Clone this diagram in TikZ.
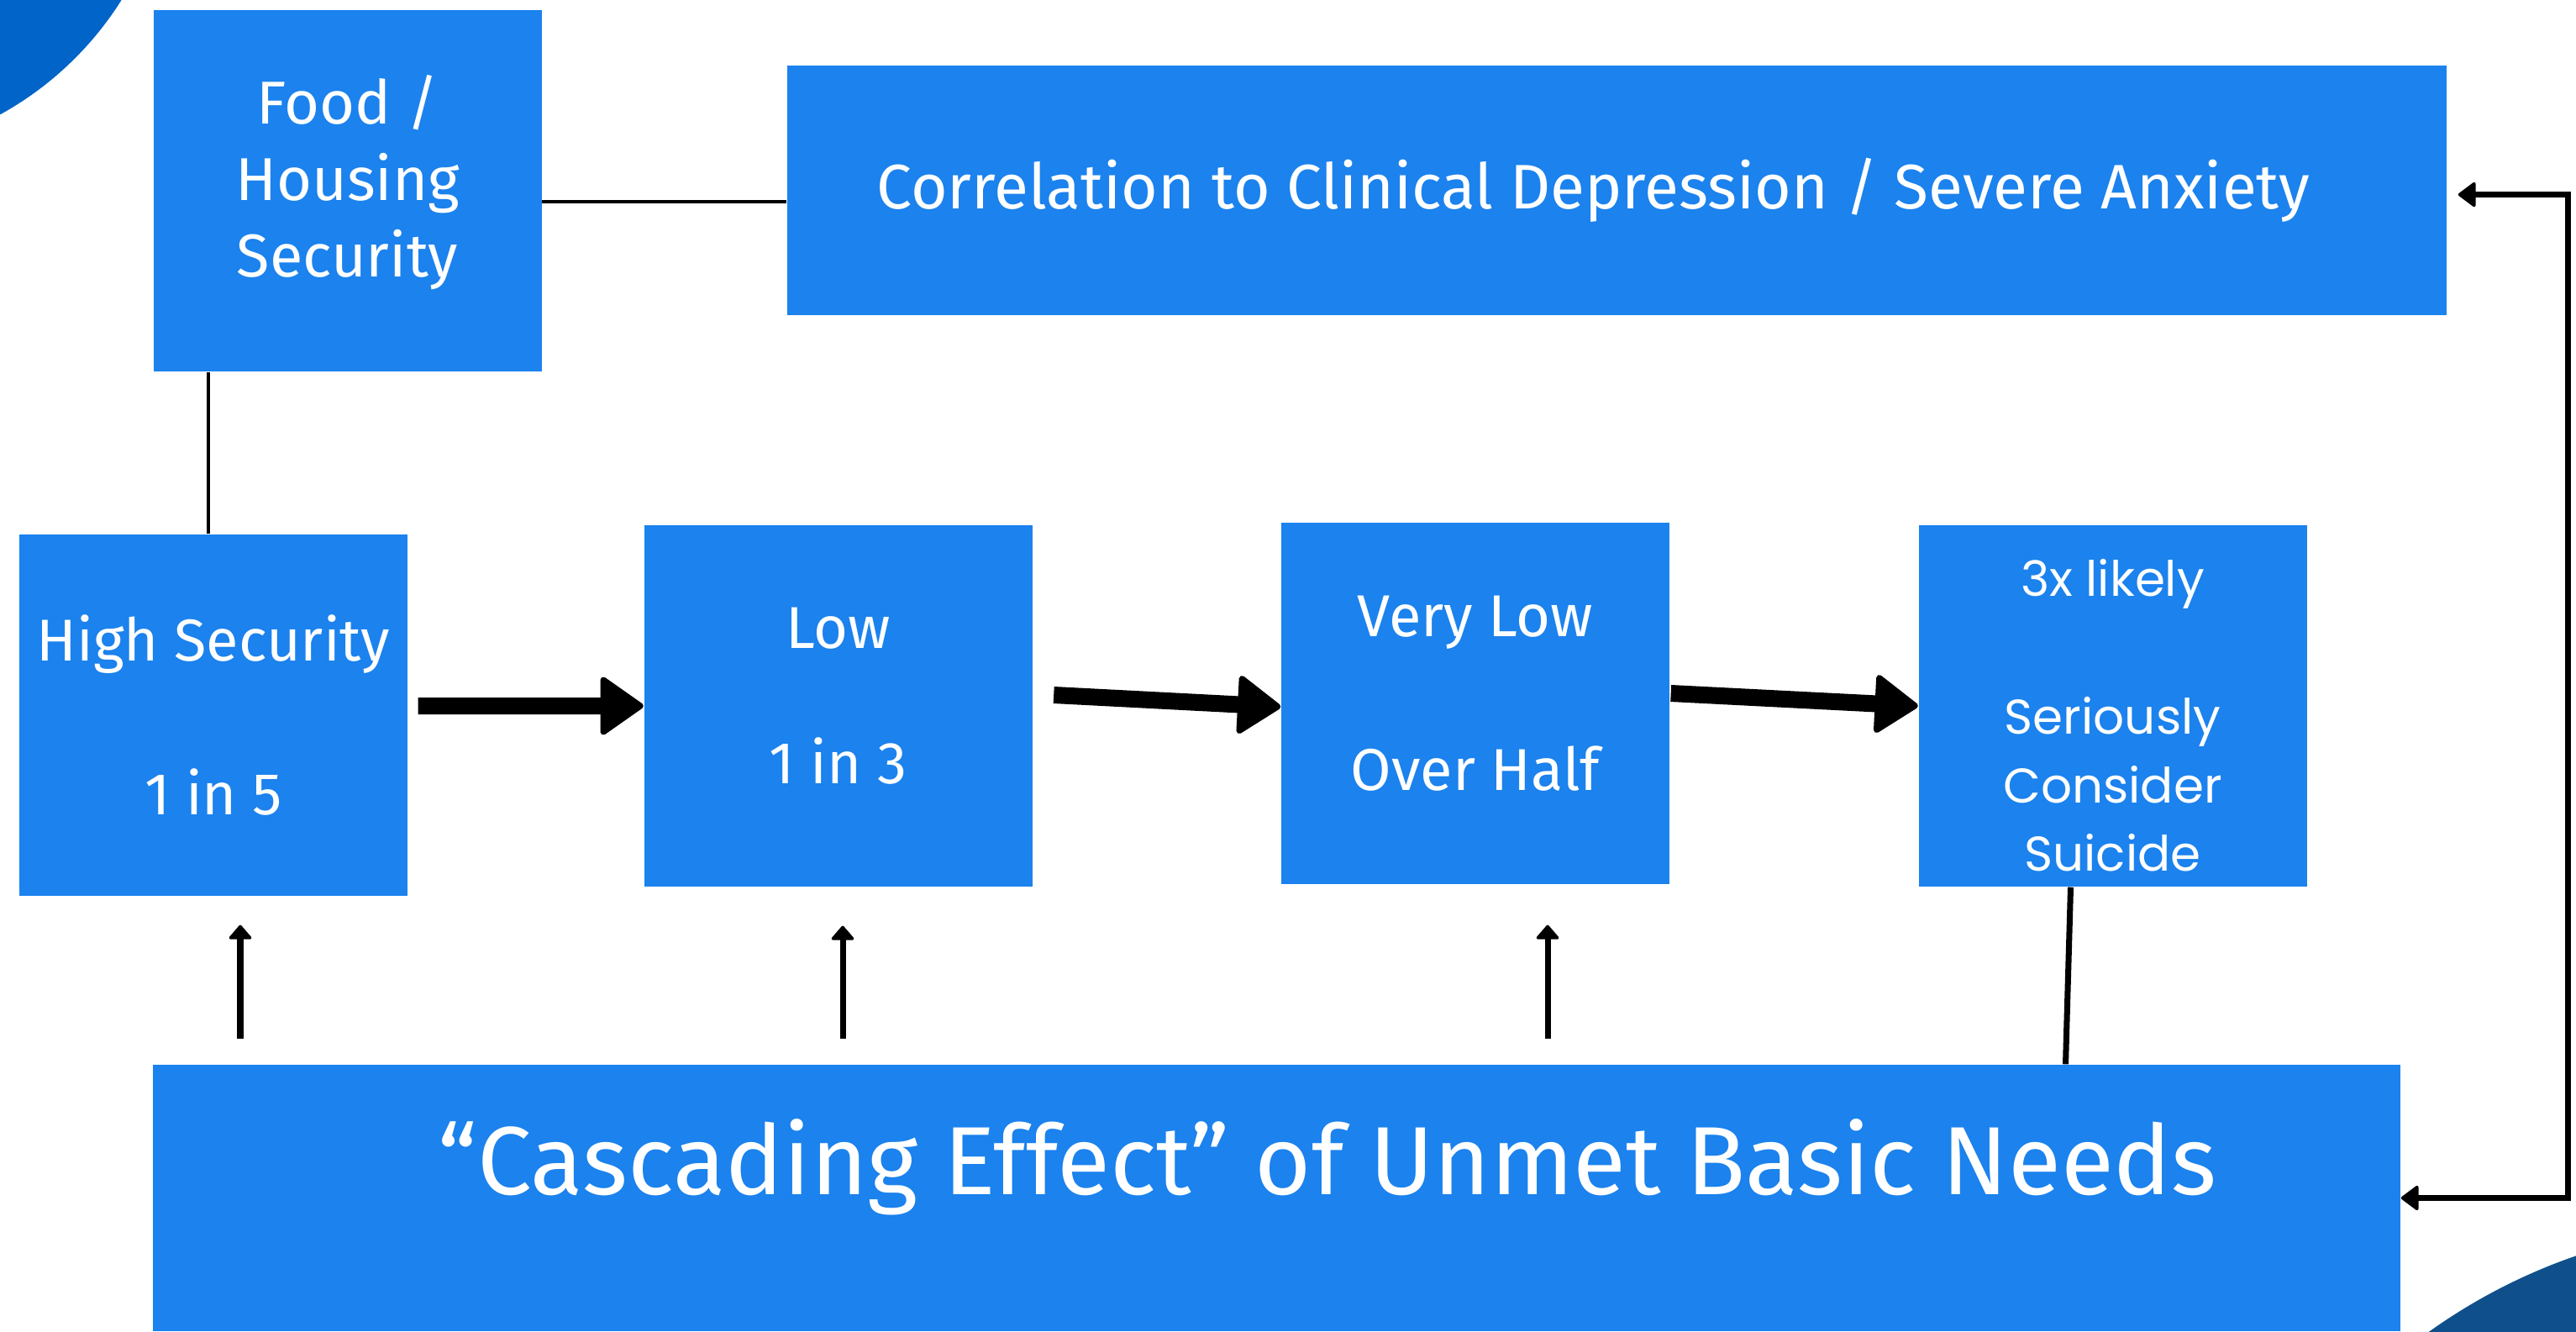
\documentclass[tikz,border=0pt]{standalone}
\usepackage{fontspec}
\setmainfont{Fira Sans}
\newfontfamily\geofont{Poppins}
\usetikzlibrary{positioning, arrows.meta}
\definecolor{BoxBlue}{RGB}{27,130,238}
\definecolor{CornerBlue}{RGB}{0,100,200}
\definecolor{CornerNavy}{RGB}{15,80,140}

\begin{document}
\begin{tikzpicture}[
    box/.style={fill=BoxBlue, text=white, inner sep=0pt, align=center,
      minimum width=4.62cm, minimum height=4.3cm, font=\fontsize{20}{26}\selectfont},
    link/.style={line width=0.9pt},
    bigarrow/.style={line width=5.7pt, -{Triangle[round, length=5.4mm, width=7.4mm, line width=2pt]}},
    uparrow/.style={line width=2pt, -{Triangle[round, length=1.8mm, width=3mm, line width=1pt]}},
    backlink/.style={line width=2pt,
      {Triangle[round, length=2.2mm, width=3.2mm, line width=1pt]}-{Triangle[round, length=2.2mm, width=3.2mm, line width=1pt]}}
  ]
  \useasboundingbox (0,0) rectangle (30.66,-15.84);
  \begin{scope}
    \clip (0,0) rectangle (30.66,-15.84);
    \fill[CornerBlue] (-1.9,2.1) circle (3.95);
    \fill[CornerNavy] (32.9,-21.44) circle (6.87);
  \end{scope}

  % boxes
  \node[box, font=\fontsize{20.5}{26}\selectfont] (food) at (4.135,-2.27)
    {Food /\\Housing\\Security\rule[-10pt]{0pt}{10pt}};
  \node[box, minimum width=19.75cm, minimum height=2.97cm, font=\fontsize{21.3}{26}\selectfont] (corr) at (19.245,-2.265)
    {Correlation to Clinical Depression / Severe Anxiety\hspace*{5.6mm}};
  \node[box] (high) at (2.54,-8.51) {High Security\\[26pt]1 in 5};
  \node[box, font=\fontsize{20}{23}\selectfont] (low) at (9.975,-8.40) {Low\\[23pt]1 in 3\rule[-7pt]{0pt}{7pt}};
  \node[box] (vlow) at (17.56,-8.37) {Very Low\\[26pt]Over Half\rule[-7pt]{0pt}{7pt}};
  \node[box, font=\geofont\fontsize{16.5}{23.3}\selectfont] (likely) at (25.145,-8.40)
    {\rule{0pt}{19pt}3x likely\\[23.3pt]Seriously\\Consider\\Suicide};
  \node[fill=BoxBlue, inner sep=0pt, minimum width=26.75cm, minimum height=3.17cm] (needs) at (15.195,-14.255) {};
  \node[text=white, font=\fontsize{32.8}{40}\selectfont, anchor=base] (needstext) at (15.8,-14.21)
    {“Cascading Effect” of Unmet Basic Needs};

  % connectors
  \draw[link] ([xshift=-0.6mm]high.north) -- ([xshift=-0.6mm]high.north |- food.south);
  \draw[link] ([yshift=-1.3mm]food.east) -- ([yshift=-1.3mm]food.east -| corr.west);
  \draw[bigarrow] ([xshift=1.2mm,yshift=1.1mm]high.east) -- (low.west);
  \draw[bigarrow] ([xshift=2.5mm,yshift=1.3mm]low.east) -- ([yshift=-0.4mm]vlow.west);
  \draw[bigarrow] ([xshift=0.1mm,yshift=1.2mm]vlow.east) -- (likely.west);
  \draw[uparrow] ([xshift=3.2mm,yshift=3mm]high.south |- needs.north) -- ([xshift=3.2mm,yshift=-3.4mm]high.south);
  \draw[uparrow] ([xshift=0.55mm,yshift=3mm]low.south |- needs.north) -- ([xshift=0.55mm,yshift=-4.6mm]low.south);
  \draw[uparrow] ([xshift=8.6mm,yshift=3mm]vlow.south |- needs.north) -- ([xshift=8.6mm,yshift=-4.8mm]vlow.south);
  \draw[line width=2pt] ([xshift=-5mm]likely.south) -- ([xshift=-5.6mm]likely.south |- needs.north);
  \coordinate (rail) at (30.56,-8);
  \draw[backlink] (needs.east) -- (needs.east -| rail) -- ([yshift=-0.5mm]corr.east -| rail)
    -- ([xshift=1.3mm,yshift=-0.5mm]corr.east);
\end{tikzpicture}
\end{document}
